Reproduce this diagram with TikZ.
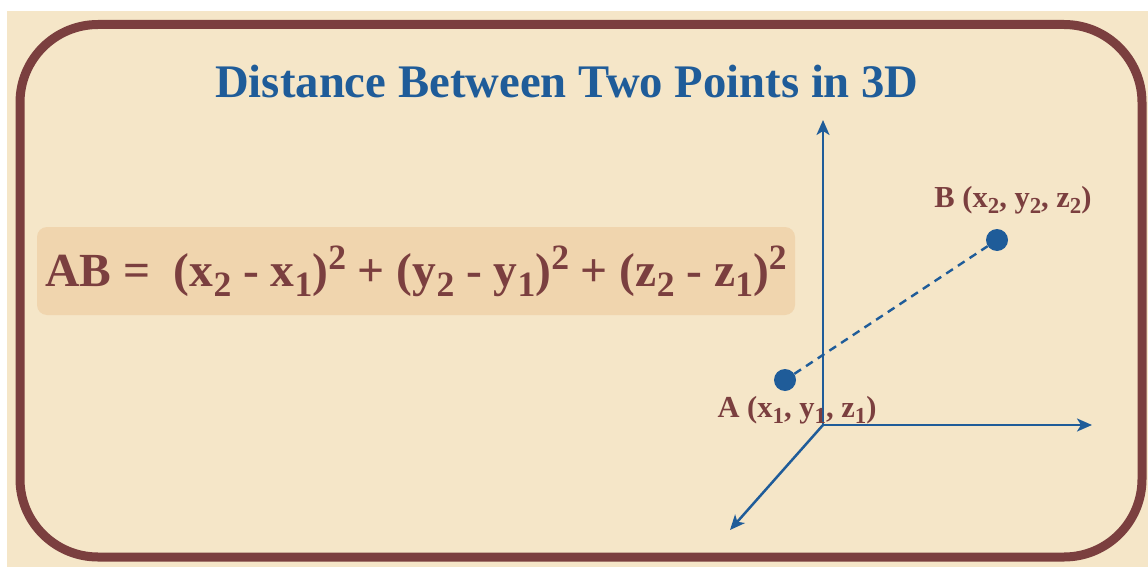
\documentclass[tikz,border=0pt]{standalone}
\usepackage{fontspec}
\setmainfont{Liberation Serif}
\usetikzlibrary{positioning,arrows.meta}
\definecolor{paper}{HTML}{F5E6C8}
\definecolor{frame}{HTML}{7B3F3F}
\definecolor{boxfill}{HTML}{F0D5AE}
\definecolor{axisblue}{HTML}{1F5C99}
\newcommand{\sub}[1]{\raisebox{-0.22em}{\scalebox{0.75}{#1}}}
\newcommand{\sq}{\raisebox{0.36em}{\scalebox{0.75}{2}}}

\begin{document}
\begin{tikzpicture}[x=1pt,y=-1pt,
    every node/.style={font=\bfseries,inner sep=0pt},
    titletext/.style={text=axisblue,font=\bfseries\fontsize{46.7}{54}\selectfont},
    formulabox/.style={rectangle,fill=boxfill,rounded corners=10pt,
                minimum width=758pt,minimum height=88pt,text=frame,
                font=\bfseries\fontsize{47.5}{56}\selectfont},
    ptlabel/.style={text=frame,font=\bfseries\fontsize{30.5}{36}\selectfont},
    dot/.style={circle,fill=axisblue,minimum size=22pt},
    axis/.style={draw=axisblue,line width=2.5pt,
                -{Stealth[length=15pt,width=13pt,inset=4pt]}},
    link/.style={draw=axisblue,line width=2.4pt,dash pattern=on 8pt off 6pt},
]
    % page and frame
    \fill[white] (0,0) rectangle (1148,567);
    \fill[paper] (7,11) rectangle (1148,567);
    \draw[frame,line width=9pt,rounded corners=78pt] (20,24.5) rectangle (1142,557);
    \useasboundingbox (0,0) rectangle (1148,567);

    \node[titletext] (title) at (567,82) {Distance Between Two Points in 3D};

    \node[formulabox] (ab) at (416,271)
        {AB =\enspace (x\sub{2} - x\sub{1})\sq{} + (y\sub{2} - y\sub{1})\sq{} + (z\sub{2} - z\sub{1})\sq};

    % axes
    \coordinate (o) at (823,425);
    \coordinate (zend) at (823,120);
    \coordinate (xend) at (1092,425);
    \coordinate (yend) at (730,530);
    \draw[axis] (o) -- (zend);
    \draw[axis] (o) -- (xend);
    \draw[axis] (o) -- (yend);

    % points
    \node[dot] (A) at (785,380) {};
    \node[dot] (B) at (997,240) {};
    \draw[link] (A) -- (B);

    \node[ptlabel,anchor=base] (lblA) at (797,417) {A (x\sub{1}, y\sub{1}, z\sub{1})};
    \node[ptlabel,anchor=base] (lblB) at (1013,207) {B (x\sub{2}, y\sub{2}, z\sub{2})};
\end{tikzpicture}
\end{document}
